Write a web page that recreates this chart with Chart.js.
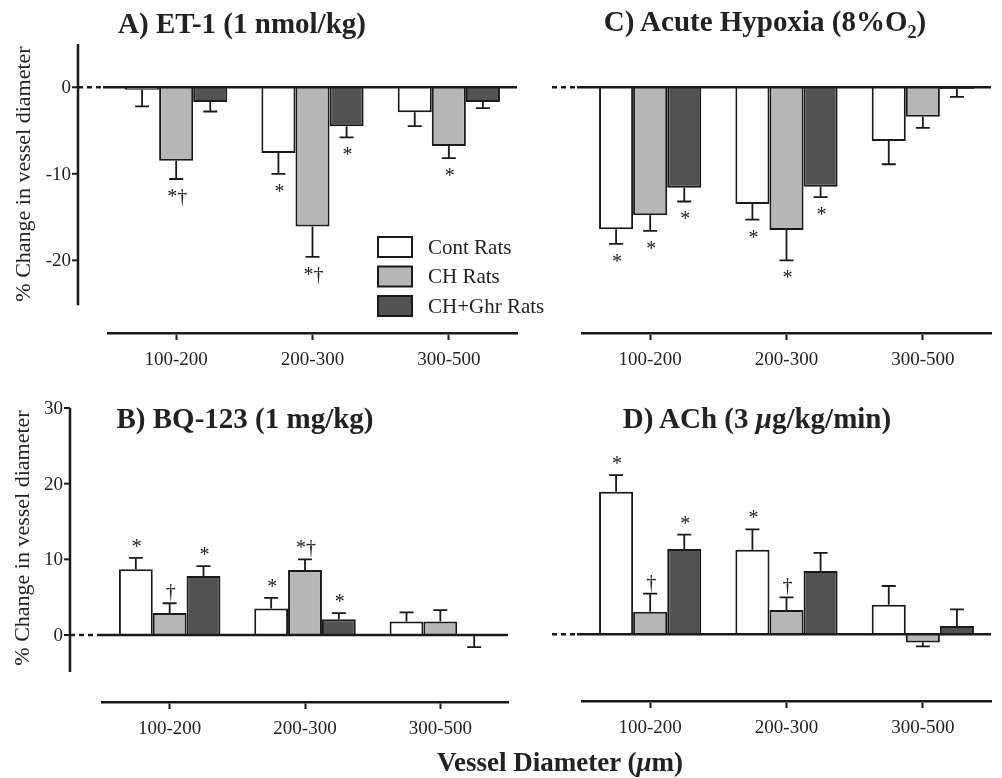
<!DOCTYPE html>
<html>
<head>
<meta charset="utf-8">
<script src="https://cdn.jsdelivr.net/npm/chart.js@4.4.1/dist/chart.umd.min.js"></script>
<style>
body { margin: 0; background: #fff; }
#wrap { position: relative; width: 1002px; height: 778px; overflow: hidden; font-family: "Liberation Serif", serif; color: #222; }
#wrap canvas { position: absolute; left: 0; top: 0; }
.title { position: absolute; font-weight: bold; font-size: 29px; white-space: nowrap; transform: translate(-50%, -50%); }
.ytitle { position: absolute; font-size: 22px; white-space: nowrap; transform: translate(-50%, -50%) rotate(-90deg); }
</style>
</head>
<body>
<div id="wrap">
  <canvas id="panelA" width="1002" height="778"></canvas>
  <canvas id="panelC" width="1002" height="778"></canvas>
  <canvas id="panelB" width="1002" height="778"></canvas>
  <canvas id="panelD" width="1002" height="778"></canvas>
  <div class="title" style="left:242px; top:23px;">A) ET-1 (1 nmol/kg)</div>
  <div class="title" style="left:765px; top:24px;">C) Acute Hypoxia (8%O<sub style="font-size:18px">2</sub>)</div>
  <div class="title" style="left:245px; top:418px;">B) BQ-123 (1 mg/kg)</div>
  <div class="title" style="left:757px; top:418px;">D) ACh (3 <i>μ</i>g/kg/min)</div>
  <div class="title" style="left:560px; top:762px; font-size:27px;">Vessel Diameter (<i>μ</i>m)</div>
  <div class="ytitle" style="left:23px; top:174px;">% Change in vessel diameter</div>
  <div class="ytitle" style="left:22px; top:538px;">% Change in vessel diameter</div>
</div>
<script>
const categories = ['100-200', '200-300', '300-500'];
const seriesNames = ['Cont Rats', 'CH Rats', 'CH+Ghr Rats'];

// A) ET-1
const et1Cont = [-0.3, -7.6, -2.9];
const et1ContErr = [1.9, 2.4, 1.6];
const et1CH = [-8.5, -16.1, -6.8];
const et1CHErr = [2.1, 3.5, 1.4];
const et1Ghr = [-1.7, -4.5, -1.7];
const et1GhrErr = [1.1, 1.3, 0.7];
const et1Marks = [['', '*', ''], ['*†', '*†', '*'], ['', '*', '']];
const et1Ticks = [0, -10, -20];

// C) Acute hypoxia
const hypCont = [-16.4, -13.5, -6.2];
const hypContErr = [1.7, 1.8, 2.7];
const hypCH = [-14.8, -16.5, -3.4];
const hypCHErr = [1.8, 3.5, 1.3];
const hypGhr = [-11.6, -11.5, -0.2];
const hypGhrErr = [1.6, 1.2, 0.9];
const hypMarks = [['*', '*', ''], ['*', '*', ''], ['*', '*', '']];

// B) BQ-123
const bqCont = [8.7, 3.5, 1.8];
const bqContErr = [1.5, 1.4, 1.2];
const bqCH = [2.9, 8.6, 1.8];
const bqCHErr = [1.3, 1.4, 1.5];
const bqGhr = [7.8, 2.1, -0.1];
const bqGhrErr = [1.3, 0.8, 1.5];
const bqMarks = [['*', '*', ''], ['†', '*†', ''], ['*', '*', '']];
const bqTicks = [30, 20, 10, 0];

// D) ACh
const achCont = [18.9, 11.2, 3.9];
const achContErr = [2.2, 2.7, 2.5];
const achCH = [3.0, 3.2, -1.1];
const achCHErr = [2.4, 1.7, 0.5];
const achGhr = [11.3, 8.4, 1.1];
const achGhrErr = [1.9, 2.4, 2.2];
const achMarks = [['*', '*', ''], ['†', '†', ''], ['*', '', '']];

const fills = ['#ffffff', '#b6b6b6', '#525252'];
const ink = '#1a1a1a';
const serif = 'Liberation Serif';

function decor(p) {
  return {
    id: 'decor',
    afterDatasetsDraw(chart) {
      const ctx = chart.ctx, y = chart.scales.y, area = chart.chartArea;
      const y0 = y.getPixelForValue(0);
      ctx.save();
      ctx.strokeStyle = ink;
      ctx.fillStyle = '#222';

      // zero line, dashed outside the plot
      ctx.lineWidth = 2.5;
      ctx.setLineDash([5, 4]);
      ctx.beginPath();
      ctx.moveTo(p.dashFrom, y0);
      ctx.lineTo(area.left - 5, y0);
      ctx.stroke();
      ctx.setLineDash([]);
      ctx.beginPath();
      ctx.moveTo(area.left - 5, y0);
      ctx.lineTo(area.right, y0);
      ctx.stroke();

      // y axis (only A and B have one)
      if (p.yAxis) {
        const ax = p.yAxis;
        ctx.lineWidth = 2.5;
        ctx.beginPath();
        ctx.moveTo(ax.x, y.getPixelForValue(ax.top));
        ctx.lineTo(ax.x, y.getPixelForValue(ax.bottom));
        ctx.stroke();
        ctx.font = '19px ' + serif;
        ctx.textAlign = 'right';
        ctx.textBaseline = 'middle';
        ax.ticks.forEach(t => {
          const ty = y.getPixelForValue(t);
          ctx.lineWidth = 2;
          ctx.beginPath();
          ctx.moveTo(ax.x - 6, ty);
          ctx.lineTo(ax.x, ty);
          ctx.stroke();
          ctx.fillText(String(t), ax.x - 7, ty + 1);
        });
      }

      // error bars + significance marks
      ctx.font = '20px ' + serif;
      ctx.textAlign = 'center';
      ctx.textBaseline = 'alphabetic';
      chart.data.datasets.forEach((ds, i) => {
        chart.getDatasetMeta(i).data.forEach((bar, j) => {
          const v = ds.data[j];
          const dir = v < 0 ? -1 : 1;
          const yb = y.getPixelForValue(v);
          const ye = y.getPixelForValue(v + dir * p.errors[i][j]);
          ctx.lineWidth = 1.8;
          ctx.beginPath();
          ctx.moveTo(bar.x, yb);
          ctx.lineTo(bar.x, ye);
          ctx.moveTo(bar.x - 7, ye);
          ctx.lineTo(bar.x + 7, ye);
          ctx.stroke();
          const m = p.marks[i][j];
          if (m) ctx.fillText(m, bar.x + 1, dir < 0 ? ye + 24 : ye - 5);
        });
      });

      // legend (panel A)
      if (p.legend) {
        ctx.font = '21px ' + serif;
        ctx.textAlign = 'left';
        ctx.textBaseline = 'middle';
        chart.data.datasets.forEach((ds, i) => {
          const by = p.legend.y + i * p.legend.step;
          ctx.fillStyle = ds.backgroundColor;
          ctx.fillRect(p.legend.x, by, 34, 20);
          ctx.lineWidth = 2;
          ctx.strokeRect(p.legend.x, by, 34, 20);
          ctx.fillStyle = '#222';
          ctx.fillText(ds.label, p.legend.x + 50, by + 11);
        });
      }
      ctx.restore();
    }
  };
}

function panel(id, p) {
  const datasets = p.values.map((vals, i) => ({
    label: seriesNames[i],
    data: vals,
    backgroundColor: fills[i],
    borderColor: ink,
    borderWidth: 2,
    categoryPercentage: 0.75,
    barPercentage: 1
  }));
  new Chart(document.getElementById(id), {
    type: 'bar',
    data: { labels: categories, datasets: datasets },
    options: {
      responsive: false,
      animation: false,
      layout: {
        padding: { left: p.area[0], right: 1002 - p.area[1], top: p.area[2], bottom: 778 - p.area[3] - 40 }
      },
      plugins: { legend: { display: false }, tooltip: { enabled: false } },
      scales: {
        x: {
          afterFit: s => { s.height = 40; },
          border: { display: true, color: ink, width: 2.5 },
          grid: { display: true, drawOnChartArea: false, drawTicks: true, tickLength: 7, tickWidth: 2, color: ink, offset: false },
          ticks: { color: '#222', padding: 9, font: { family: serif, size: 19 } }
        },
        y: { display: false, min: p.yMin, max: p.yMax }
      }
    },
    plugins: [decor(p)]
  });
}

panel('panelA', {
  values: [et1Cont, et1CH, et1Ghr],
  errors: [et1ContErr, et1CHErr, et1GhrErr],
  marks: et1Marks,
  area: [108, 517, 44, 333], yMin: -28.4, yMax: 5,
  dashFrom: 78,
  yAxis: { x: 78, top: 5, bottom: -25.2, ticks: et1Ticks },
  legend: { x: 378, y: 237, step: 29.5 }
});

panel('panelC', {
  values: [hypCont, hypCH, hypGhr],
  errors: [hypContErr, hypCHErr, hypGhrErr],
  marks: hypMarks,
  area: [582, 991, 44, 333], yMin: -28.4, yMax: 5,
  dashFrom: 552
});

panel('panelB', {
  values: [bqCont, bqCH, bqGhr],
  errors: [bqContErr, bqCHErr, bqGhrErr],
  marks: bqMarks,
  area: [102, 508, 408, 702], yMin: -8.85, yMax: 30,
  dashFrom: 70,
  yAxis: { x: 70, top: 30, bottom: -4.9, ticks: bqTicks }
});

panel('panelD', {
  values: [achCont, achCH, achGhr],
  errors: [achContErr, achCHErr, achGhrErr],
  marks: achMarks,
  area: [582, 991, 408, 701], yMin: -8.85, yMax: 30,
  dashFrom: 552
});
</script>
</body>
</html>
